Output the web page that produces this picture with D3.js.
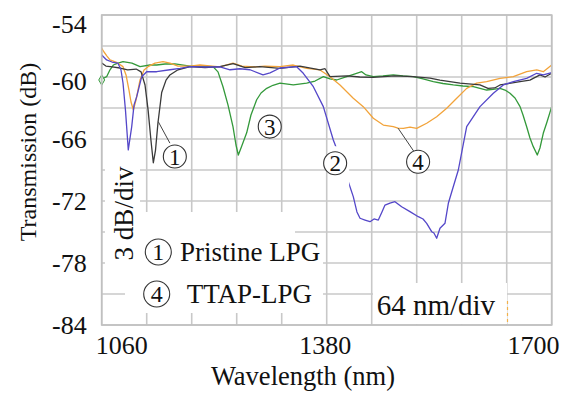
<!DOCTYPE html>
<html><head><meta charset="utf-8">
<script src="https://cdn.jsdelivr.net/npm/d3@7/dist/d3.min.js"></script>
<style>
html,body{margin:0;padding:0;background:#fff;}
svg text{font-family:"Liberation Serif","Times New Roman",serif !important;}
</style></head>
<body><svg id="c" width="569" height="394"></svg>
<script>
// ---- data (wavelength nm, transmission dB) ----
const xTickValues = [1060, 1380, 1700];
const yTickValues = [-54, -60, -66, -72, -78, -84];
const xLabel = "Wavelength (nm)";
const yLabel = "Transmission (dB)";

// curve 1: pristine LPG (black)
const curve1 = [[1060,-58.65],[1066,-58.94],[1075,-59.03],[1086,-59.13],[1097,-59.32],[1109,-59.23],[1116,-59.5],[1121.6,-60.77],[1126,-63.2],[1130,-66.1],[1133.4,-68.3],[1136.5,-67.1],[1140,-64.45],[1145.3,-61.5],[1151.5,-60.3],[1157,-59.8],[1168.5,-59.3],[1185.6,-59.0],[1207,-59.1],[1228,-59.0],[1247,-58.7],[1264,-59.1],[1285,-59.0],[1313.6,-59.16],[1342,-58.94],[1370.5,-59.3],[1377.6,-59.2],[1384.7,-59.97],[1408.9,-59.9],[1427,-60.0],[1445.8,-60.03],[1477,-59.9],[1502.7,-59.97],[1527,-60.1],[1541,-60.3],[1569.6,-60.6],[1598,-60.77],[1609.4,-61.1],[1619,-61.06],[1626.5,-60.77],[1654.9,-60.45],[1669,-60.3],[1683.3,-59.8],[1690.5,-60.0],[1700,-59.64]];
// curve 2 (blue)
const curve2 = [[1060,-57.87],[1067,-58.35],[1074.6,-58.55],[1083,-58.65],[1087.4,-59.3],[1090.3,-60.58],[1093.8,-63.2],[1097.8,-67.06],[1102.7,-64.8],[1106,-62.7],[1109.8,-61.9],[1116.9,-59.97],[1124,-59.49],[1138.2,-59.49],[1157,-59.3],[1171.4,-59.16],[1185.6,-59.0],[1207,-59.03],[1228.2,-59.03],[1242.5,-59.3],[1256.7,-59.2],[1271,-59.3],[1289.4,-59.8],[1299.4,-59.6],[1313.6,-59.13],[1337.3,-59.0],[1346.7,-59.64],[1361,-60.94],[1375.2,-62.87],[1389.4,-66.1],[1400.3,-68.03],[1410.7,-70.13],[1417.8,-71.58],[1423,-73.06],[1427.4,-73.67],[1434.5,-73.84],[1441.6,-74.0],[1447.3,-73.74],[1453.4,-73.84],[1458.6,-73.06],[1462.9,-72.39],[1470,-72.2],[1477.1,-72.07],[1486.6,-72.55],[1498.4,-73.03],[1510.3,-73.52],[1517,-73.74],[1522.2,-74.16],[1529.3,-74.97],[1532.5,-75.1],[1536.4,-75.6],[1541.1,-74.64],[1548.2,-74.16],[1553,-72.22],[1560,-70.62],[1567.2,-69.0],[1579.1,-64.81],[1598,-62.87],[1617,-61.58],[1631.2,-60.77],[1645.4,-60.45],[1664.4,-60.13],[1678.7,-59.64],[1688,-59.8],[1700,-59.58]];
// curve 3 (green)
const curve3 = [[1060,-60.29],[1063.3,-60.1],[1067,-59.97],[1071.8,-59.3],[1076.5,-58.84],[1083.2,-58.65],[1090.3,-58.52],[1103,-58.65],[1114.5,-59.0],[1128.7,-58.84],[1138.2,-58.84],[1150,-58.74],[1164.2,-58.74],[1185.6,-58.94],[1199.8,-58.94],[1218.3,-59.0],[1225.4,-59.5],[1232.5,-60.94],[1239.6,-62.7],[1246.7,-64.8],[1251,-66.58],[1254.3,-67.55],[1258,-66.9],[1266.2,-65.4],[1272.3,-63.68],[1280.4,-62.2],[1286.6,-61.55],[1294.7,-61.1],[1303.6,-60.8],[1313.6,-60.6],[1332.5,-60.77],[1351.5,-60.6],[1363.4,-60.39],[1375.2,-59.97],[1384.7,-60.19],[1394.2,-60.29],[1408.4,-59.97],[1420.3,-59.7],[1429.8,-59.49],[1435.9,-59.8],[1446.3,-59.97],[1460,-59.9],[1474.7,-59.8],[1488.5,-59.9],[1503.2,-59.97],[1517,-60.19],[1531.6,-60.45],[1545.4,-60.63],[1560.1,-60.77],[1573.9,-60.87],[1588.5,-60.94],[1607.5,-61.26],[1616.5,-61.2],[1626.5,-61.1],[1633.6,-61.26],[1640.7,-61.58],[1647.8,-62.03],[1655,-62.87],[1659.2,-63.68],[1664.4,-64.81],[1669.1,-65.9],[1673.8,-66.74],[1679.5,-67.55],[1683.3,-66.87],[1688,-65.45],[1693.3,-64.35],[1700,-62.87]];
// curve 4: TTAP-LPG (orange)
const curve4 = [[1060,-57.22],[1063.3,-57.58],[1067.5,-57.97],[1071.8,-58.35],[1080.3,-58.55],[1090.3,-59.0],[1094.6,-59.8],[1098.8,-61.26],[1101.7,-62.42],[1105,-63.19],[1108.8,-62.23],[1114.5,-60.29],[1120.2,-59.32],[1125.9,-59.0],[1135.8,-58.65],[1147.2,-58.52],[1157.1,-58.65],[1168.5,-58.94],[1185.6,-58.94],[1199.8,-58.84],[1216.9,-58.94],[1228.2,-59.03],[1246.7,-58.65],[1259.5,-58.94],[1278,-59.03],[1292.2,-58.94],[1313.6,-59.0],[1332.5,-58.84],[1351.5,-59.16],[1370.5,-59.32],[1384.7,-59.97],[1398.9,-60.77],[1417.8,-62.06],[1432,-62.87],[1446.3,-63.99],[1460.5,-64.65],[1474.7,-64.81],[1481.4,-64.94],[1489,-64.97],[1498.5,-64.84],[1508,-64.97],[1522.2,-64.48],[1536.4,-63.84],[1550.7,-63.03],[1564.9,-62.06],[1579.1,-61.1],[1593.3,-60.6],[1607.5,-60.45],[1626.5,-60.13],[1645.4,-59.97],[1664.4,-59.49],[1678.7,-59.32],[1688,-59.49],[1694.7,-59.13],[1700,-58.84]];

const seriesColors = ["#3a3a3a", "#5447c9", "#33993a", "#f2a33a"];

// annotation labels (number, wavelength, dB)
const curveLabels = [["1",1164,-67.7],["3",1299,-64.8],["2",1392,-68.35],["4",1510,-68.2]];
const legendLabels = [["1","Pristine LPG"],["4","TTAP-LPG"]];

// ---- drawing ----
const FONT = "Liberation Serif, Times New Roman, serif";
const svg = d3.select("#c");
const L = 101.7, R = 551.7, T = 15, B = 325;
const x = d3.scaleLinear().domain([1060, 1700]).range([L, R]);
const y = d3.scaleLinear().domain([-84, -54]).range([B, T]);

svg.append("rect").attr("width",569).attr("height",394).attr("fill","#fff");

// grid
const gridColor = "#c8c8c8";
const g = svg.append("g");
g.selectAll(".vx").data(d3.range(1060, 1701, 64)).join("line")
  .attr("x1", d=>x(d)).attr("x2", d=>x(d)).attr("y1", T).attr("y2", B)
  .attr("stroke", gridColor).attr("stroke-width", 1.6);
g.selectAll(".hy").data(d3.range(-84, -53, 3)).join("line")
  .attr("y1", d=>y(d)).attr("y2", d=>y(d)).attr("x1", L).attr("x2", R)
  .attr("stroke", gridColor).attr("stroke-width", 1.6);

// white boxes behind texts (cover grid)
const wb = svg.append("g").attr("fill","#fff");
wb.append("rect").attr("x",105).attr("y",150).attr("width",35).attr("height",120);
wb.append("rect").attr("x",132).attr("y",212).attr("width",163).attr("height",30);
wb.append("rect").attr("x",125).attr("y",240).attr("width",198).attr("height",73);
wb.append("rect").attr("x",373).attr("y",283).attr("width",134).attr("height",41);

// curves
const line = d3.line().x(d=>x(d[0])).y(d=>y(d[1]));
const curves = [curve3, curve4, curve1, curve2];
const cols = [seriesColors[2], seriesColors[3], seriesColors[0], seriesColors[1]];
curves.forEach((c,i)=>{
  svg.append("path").datum(c).attr("d", line).attr("fill","none")
    .attr("stroke", cols[i]).attr("stroke-width", 1.3).attr("stroke-linejoin","round");
});
// start marker of green curve
svg.append("path").attr("d", d3.symbol(d3.symbolDiamond, 30)())
  .attr("transform", `translate(${x(curve3[0][0])},${y(curve3[0][1])})`)
  .attr("fill","#e6f2e6").attr("stroke", seriesColors[2]).attr("stroke-width",1);

// small orange dashed artefact near bottom right
svg.append("line").attr("x1",507.5).attr("x2",507.5).attr("y1",301).attr("y2",323)
  .attr("stroke","#f2b14a").attr("stroke-width",1.2).attr("stroke-dasharray","3,3");

// axes
const plain = d => String(d);   // hyphen-minus, as in the original
const xAxis = svg.append("g").attr("transform",`translate(0,${B})`)
  .call(d3.axisBottom(x).tickValues(xTickValues).tickSize(0).tickPadding(0).tickFormat(plain));
xAxis.attr("font-family", FONT);
xAxis.select(".domain").remove();
const xShift = {1060: 19.6, 1380: -2, 1700: -18.7};
xAxis.selectAll("text").attr("font-family", FONT)
  .attr("font-size", 26).attr("fill","#111").attr("dy", null).attr("y", 29)
  .attr("dx", d=>xShift[d]);

const yAxis = svg.append("g").attr("transform",`translate(${L},0)`)
  .call(d3.axisLeft(y).tickValues(yTickValues).tickSize(0).tickPadding(15).tickFormat(plain));
yAxis.attr("font-family", FONT);
yAxis.select(".domain").remove();
const yShift = {"-54": 8, "-60": 3};
yAxis.selectAll("text").attr("font-family", FONT)
  .attr("font-size", 26).attr("fill","#111").attr("dy", "0.35em")
  .attr("y", d=> (yShift[d] || -1));

// plot border
svg.append("rect").attr("x",L).attr("y",T).attr("width",R-L).attr("height",B-T)
  .attr("fill","none").attr("stroke","#c0c0c0").attr("stroke-width",1.6);

function txt(sel){ return sel.attr("font-family", FONT).attr("fill","#111"); }

// axis titles
txt(svg.append("text")).attr("x",303).attr("y",385).attr("text-anchor","middle")
  .attr("font-size",26.5).text(xLabel);
txt(svg.append("text")).attr("transform","translate(36,152) rotate(-90)").attr("text-anchor","middle")
  .attr("font-size",24).text(yLabel);

// scale notes
txt(svg.append("text")).attr("transform","translate(133,213.5) rotate(-90)").attr("text-anchor","middle")
  .attr("font-size",27).text("3 dB/div");
txt(svg.append("text")).attr("x",376.7).attr("y",315).attr("font-size",29).text("64 nm/div");

// leader lines
const leader = [[[1140.5,-64.33],[1157,-66.4]],[[1481.5,-64.95],[1505,-67.3]]];
leader.forEach(s=>{
  svg.append("line").attr("x1",x(s[0][0])).attr("y1",y(s[0][1])).attr("x2",x(s[1][0])).attr("y2",y(s[1][1]))
    .attr("stroke","#444").attr("stroke-width",1);
});
// white gap under label 2 on the blue curve
svg.append("rect").attr("x",x(1392)-4).attr("y",y(-66.7)).attr("width",18).attr("height",y(-70.8)-y(-66.7)).attr("fill","#fff");

// circled numbers
curveLabels.forEach(([t,wl,db])=>{
  const cx = x(wl), cy = y(db);
  svg.append("circle").attr("cx",cx).attr("cy",cy).attr("r",11.5)
    .attr("fill","#fff").attr("stroke","#333").attr("stroke-width",1.1);
  txt(svg.append("text")).attr("x",cx).attr("y",cy).attr("dy","0.35em").attr("text-anchor","middle")
    .attr("font-size",23).text(t);
});

// legend
const legY = [252, 294];
const legCx = [158.3, 156.7];
const legTx = [180, 186.7];
legendLabels.forEach(([n,label],i)=>{
  svg.append("circle").attr("cx",legCx[i]).attr("cy",legY[i]).attr("r",13)
    .attr("fill","#fff").attr("stroke","#333").attr("stroke-width",1.1);
  txt(svg.append("text")).attr("x",legCx[i]).attr("y",legY[i]).attr("dy","0.35em").attr("text-anchor","middle")
    .attr("font-size",24).text(n);
  txt(svg.append("text")).attr("x",legTx[i]).attr("y",legY[i]+8.5)
    .attr("font-size",27).text(label);
});
</script></body></html>
